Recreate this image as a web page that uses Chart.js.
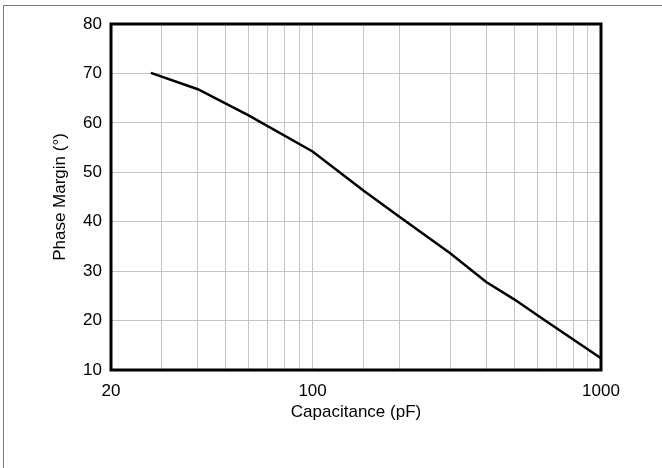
<!DOCTYPE html>
<html>
<head>
<meta charset="utf-8">
<script src="https://cdn.jsdelivr.net/npm/chart.js@4/dist/chart.umd.min.js"></script>
<style>
    html, body { margin: 0; padding: 0; background: #fff; }
    .chartBox { position: relative; width: 662px; height: 468px; }
    .frame { position: absolute; left: 3px; top: 5px; right: 0; bottom: 0; border-top: 1px solid #7a7a7a; border-left: 1px solid #7a7a7a; }
    #dataChart { position: absolute; left: 0; top: 0; }
</style>
</head>
<body>
<div class="chartBox">
    <div class="frame"></div>
    <canvas id="dataChart" width="662" height="468"></canvas>
</div>
<script>
// values
const capacitance = [27.5, 40, 60, 100, 150, 200, 300, 400, 500, 640, 1000]; // pF
const phaseMargin = [70.1, 66.8, 61.5, 54.2, 46.3, 41.0, 33.6, 27.8, 24.3, 20.0, 12.4]; // deg
const xTickLabels = [20, 100, 1000];

const fontFamily = '"Liberation Sans", Arial, sans-serif';

// black frame around the plot area
const plotFrame = {
    id: 'plotFrame',
    afterDatasetsDraw(chart) {
        const {ctx, chartArea: a} = chart;
        ctx.save();
        ctx.strokeStyle = '#000';
        ctx.lineWidth = 3;
        ctx.strokeRect(a.left, a.top, a.right - a.left, a.bottom - a.top);
        ctx.restore();
    }
};

const initChart = () => {
    let ctx = document.getElementById('dataChart').getContext('2d');
    new Chart(ctx, {
        type: 'line',
        data: {
            datasets: [{
                data: capacitance.map((c, i) => ({x: c, y: phaseMargin[i]})),
                borderColor: '#000',
                borderWidth: 2.5,
                pointRadius: 0,
                fill: false,
                tension: 0,
            }]
        },
        options: {
            responsive: false,
            animation: false,
            events: [],
            layout: { padding: { left: 0, right: 61, top: 24, bottom: 40 } },
            plugins: { legend: { display: false }, tooltip: { enabled: false } },
            scales: {
                x: {
                    type: 'logarithmic',
                    min: 20,
                    max: 1000,
                    afterFit: (s) => { s.height = 58; },
                    grid: { color: '#c4c4c4', lineWidth: 1, drawTicks: false },
                    border: { display: false },
                    ticks: {
                        autoSkip: false,
                        maxRotation: 0,
                        padding: 11,
                        color: '#000',
                        font: { family: fontFamily, size: 17 },
                        callback: (v) => xTickLabels.includes(v) ? String(v) : '',
                    },
                    title: {
                        display: true,
                        text: 'Capacitance (pF)',
                        color: '#000',
                        font: { family: fontFamily, size: 17 },
                        padding: { top: 0, bottom: 5 },
                    }
                },
                y: {
                    min: 10,
                    max: 80,
                    afterFit: (s) => { s.width = 111; },
                    grid: { color: '#c4c4c4', lineWidth: 1, drawTicks: false },
                    border: { display: false },
                    ticks: {
                        stepSize: 10,
                        padding: 9,
                        color: '#000',
                        font: { family: fontFamily, size: 17 },
                    },
                    title: {
                        display: true,
                        text: 'Phase Margin (°)',
                        color: '#000',
                        font: { family: fontFamily, size: 17 },
                        padding: { top: 50, bottom: 0 },
                    }
                }
            }
        },
        plugins: [plotFrame]
    });
};

initChart();
</script>
</body>
</html>
